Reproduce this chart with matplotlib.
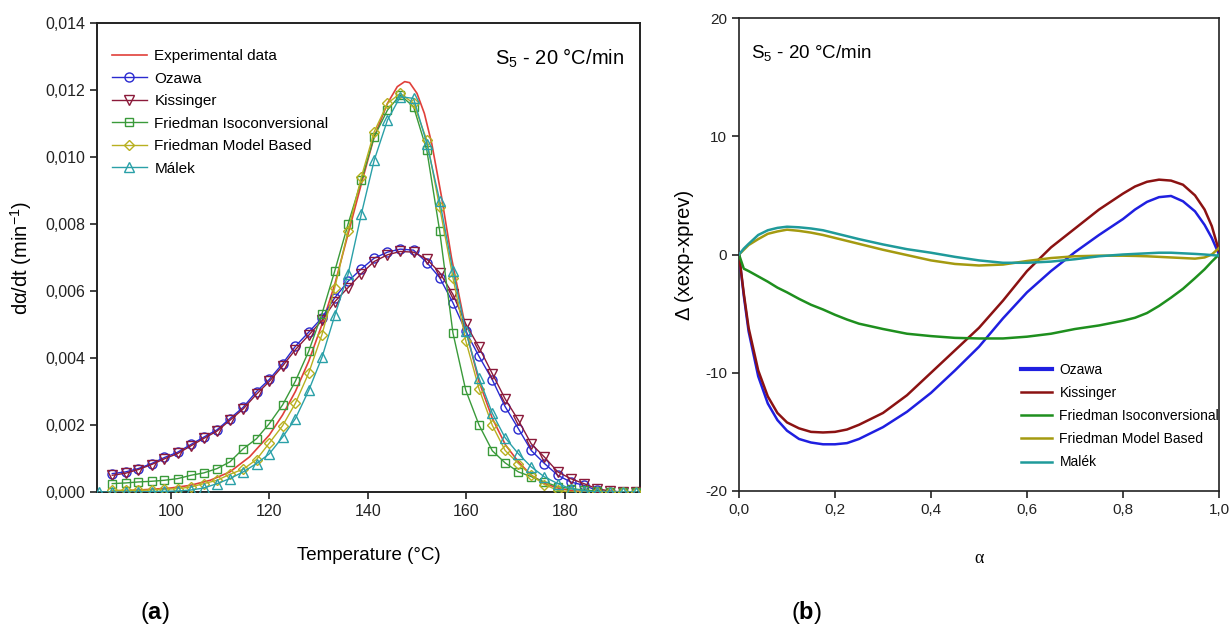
import matplotlib
matplotlib.use("Agg")
import matplotlib.pyplot as plt
import numpy as np

plt.rcParams['font.family'] = ['Liberation Sans', 'DejaVu Sans']
plt.rcParams['mathtext.fontset'] = 'custom'
plt.rcParams['mathtext.rm'] = 'Liberation Sans'
plt.rcParams['mathtext.it'] = 'Liberation Sans:italic'
plt.rcParams['mathtext.bf'] = 'Liberation Sans:bold'
plt.rcParams['mathtext.default'] = 'regular'

# ---------------- Panel (a) data ----------------
temperature = [85.4, 88.1, 90.8, 93.4, 96.1, 98.7, 101.4, 104.1, 106.7, 109.4, 112.0,
               114.7, 117.4, 120.0, 122.7, 125.3, 128.0, 130.7, 133.3, 136.0, 138.7,
               141.3, 144.0, 146.6, 149.3, 152.0, 154.6, 157.3, 159.9, 162.6, 165.3,
               167.9, 170.6, 173.2, 175.9, 178.6, 181.2, 183.9, 186.5, 189.2, 191.9, 194.5]

ozawa = [np.nan, 0.00055, 0.00060, 0.00070, 0.00085, 0.00103, 0.00119, 0.00142, 0.00164,
         0.00186, 0.00219, 0.00253, 0.00300, 0.00336, 0.00383, 0.00435, 0.00477, 0.00520,
         0.00580, 0.00629, 0.00666, 0.00698, 0.00716, 0.00725, 0.00722, 0.00685, 0.00640,
         0.00565, 0.00480, 0.00405, 0.00335, 0.00255, 0.00189, 0.00124, 0.00085, 0.00050,
         0.00030, 0.00020, 0.00005, 0.0, 0.0, 0.0]

kissinger = [np.nan, 0.00050, 0.00056, 0.00067, 0.00082, 0.00099, 0.00115, 0.00138, 0.00160,
             0.00182, 0.00214, 0.00248, 0.00292, 0.00330, 0.00376, 0.00425, 0.00468, 0.00512,
             0.00568, 0.00610, 0.00652, 0.00688, 0.00708, 0.00718, 0.00716, 0.00695, 0.00655,
             0.00590, 0.00502, 0.00432, 0.00353, 0.00278, 0.00214, 0.00144, 0.00104, 0.00060,
             0.00040, 0.00025, 0.00010, 0.00003, 0.0, 0.0]

friedman_iso = [np.nan, 0.00025, 0.00027, 0.00030, 0.00032, 0.00035, 0.00040, 0.00050, 0.00057,
                0.00070, 0.00090, 0.00129, 0.00159, 0.00204, 0.00260, 0.00331, 0.00420, 0.00532,
                0.00660, 0.00800, 0.00930, 0.01060, 0.01140, 0.01185, 0.01150, 0.01020, 0.00780,
                0.00475, 0.00304, 0.00200, 0.00123, 0.00087, 0.00060, 0.00046, 0.00030, 0.00016,
                0.00010, 0.00006, 0.00003, 0.0, 0.0, 0.0]

friedman_model = [np.nan, 0.00005, 0.00005, 0.00005, 0.00006, 0.00008, 0.00010, 0.00015, 0.00025,
                  0.00035, 0.00053, 0.00068, 0.00097, 0.00146, 0.00198, 0.00265, 0.00355, 0.00470,
                  0.00610, 0.00780, 0.00940, 0.01075, 0.01160, 0.01190, 0.01160, 0.01050, 0.00850,
                  0.00640, 0.00452, 0.00308, 0.00199, 0.00124, 0.00085, 0.00050, 0.00022, 0.00005,
                  0.0, 0.0, 0.0, 0.0, 0.0, 0.0]

malek = [0.0, 0.0, 0.0, 0.0, 0.00001, 0.00002, 0.00003, 0.00006, 0.00012,
         0.00025, 0.00040, 0.00060, 0.00085, 0.00114, 0.00164, 0.00219, 0.00303, 0.00402,
         0.00527, 0.00650, 0.00830, 0.00990, 0.01110, 0.01180, 0.01175, 0.01040, 0.00870,
         0.00660, 0.00480, 0.00340, 0.00235, 0.00162, 0.00114, 0.00075, 0.00045, 0.00025,
         0.00010, 0.00004, 0.0, 0.0, 0.0, 0.0]

exp_temperature = [88, 92, 96, 100, 104, 108, 112, 116, 120, 122.7, 125.3, 128, 130.7, 133.3,
                   136, 138.7, 141.3, 144, 146, 147.5, 148.5, 150, 151.5, 153, 155, 157, 160,
                   162.6, 165.3, 168, 170.6, 173.2, 176, 179, 182, 186, 190, 194.5]
experimental = [0.00003, 0.00005, 0.00008, 0.00012, 0.00020, 0.00035, 0.00060, 0.00105,
                0.00170, 0.00230, 0.00300, 0.00390, 0.00500, 0.00620, 0.00770, 0.00920,
                0.01060, 0.01160, 0.01210, 0.01225, 0.01222, 0.01190, 0.01130, 0.01040,
                0.00880, 0.00700, 0.00480, 0.00330, 0.00220, 0.00140, 0.00090, 0.00050,
                0.00025, 0.00010, 0.00003, 0.0, 0.0, 0.0]

yticks_a = [0.000, 0.002, 0.004, 0.006, 0.008, 0.010, 0.012, 0.014]
xticks_a = [100, 120, 140, 160, 180]

# ---------------- Panel (b) data ----------------
alpha = [0.0, 0.01, 0.02, 0.04, 0.06, 0.08, 0.10, 0.125, 0.15, 0.175, 0.20, 0.225, 0.25,
         0.30, 0.35, 0.40, 0.45, 0.50, 0.55, 0.60, 0.65, 0.70, 0.75, 0.80, 0.825, 0.85,
         0.875, 0.90, 0.925, 0.95, 0.97, 0.985, 1.0]

d_ozawa = [0.0, -3.5, -6.5, -10.3, -12.6, -14.0, -14.9, -15.6, -15.9, -16.05, -16.05, -15.95,
           -15.6, -14.6, -13.3, -11.7, -9.8, -7.8, -5.4, -3.2, -1.4, 0.2, 1.65, 3.0, 3.8, 4.45,
           4.85, 4.95, 4.5, 3.65, 2.5, 1.4, 0.0]

d_kissinger = [0.0, -3.3, -6.2, -9.8, -12.0, -13.4, -14.2, -14.7, -15.0, -15.05, -15.0, -14.8,
               -14.4, -13.4, -11.9, -10.0, -8.1, -6.2, -3.9, -1.4, 0.6, 2.2, 3.8, 5.15, 5.75,
               6.15, 6.33, 6.25, 5.9, 5.0, 3.8, 2.4, 0.3]

d_friedman_iso = [0.0, -1.2, -1.4, -1.85, -2.3, -2.8, -3.2, -3.75, -4.25, -4.65, -5.1, -5.5,
                  -5.85, -6.3, -6.7, -6.9, -7.05, -7.1, -7.1, -6.95, -6.7, -6.3, -6.0, -5.6,
                  -5.35, -4.95, -4.35, -3.65, -2.9, -2.0, -1.25, -0.6, 0.0]

d_friedman_model = [0.0, 0.4, 0.8, 1.3, 1.75, 1.95, 2.1, 2.0, 1.85, 1.65, 1.4, 1.15, 0.9, 0.4,
                    -0.05, -0.5, -0.8, -0.93, -0.85, -0.55, -0.3, -0.15, -0.1, -0.1, -0.12,
                    -0.15, -0.2, -0.25, -0.3, -0.35, -0.25, 0.0, 0.55]

d_malek = [0.0, 0.5, 0.9, 1.65, 2.05, 2.25, 2.35, 2.3, 2.2, 2.05, 1.8, 1.55, 1.3, 0.85, 0.45,
           0.15, -0.2, -0.5, -0.7, -0.7, -0.6, -0.4, -0.15, 0.0, 0.05, 0.1, 0.15, 0.15, 0.1,
           0.05, 0.0, -0.05, -0.1]

yticks_b = [-20, -10, 0, 10, 20]
xticks_b = [0.0, 0.2, 0.4, 0.6, 0.8, 1.0]


def comma(v, nd):
    return f"{v:.{nd}f}".replace('.', ',')


fig = plt.figure(figsize=(12.31, 6.30), dpi=100)

# ---------------- Panel (a) ----------------
ax1 = fig.add_axes([97 / 1231, 1 - 492 / 630, (640 - 97) / 1231, (492 - 23) / 630])
ms = 6.5
mew = 1.0
ax1.plot(exp_temperature, experimental, color='#e0403a', lw=1.2, label='Experimental data', zorder=3)
ax1.plot(temperature, ozawa, color='#2a2ad0', lw=1.0, marker='o', ms=ms, mfc='none', mew=mew,
         label='Ozawa', zorder=4)
ax1.plot(temperature, kissinger, color='#8b1a3a', lw=1.0, marker='v', ms=ms, mfc='none', mew=mew,
         label='Kissinger', zorder=4)
ax1.plot(temperature, friedman_iso, color='#3a9a3a', lw=1.0, marker='s', ms=ms - 0.5, mfc='none',
         mew=mew, label='Friedman Isoconversional', zorder=4)
ax1.plot(temperature, friedman_model, color='#b8b020', lw=1.0, marker='D', ms=ms - 1.0, mfc='none',
         mew=mew, label='Friedman Model Based', zorder=4)
ax1.plot(temperature, malek, color='#2aa0a8', lw=1.0, marker='^', ms=ms, mfc='none', mew=mew,
         label='Málek', zorder=4)

ax1.set_xlim(85, 195.3)
ax1.set_ylim(0, 0.014)
ax1.set_xticks(xticks_a)
ax1.set_xticklabels([str(t) for t in xticks_a])
ax1.set_yticks(yticks_a)
ax1.set_yticklabels([comma(v, 3) for v in yticks_a])
ax1.tick_params(direction='out', length=5, width=1.2, labelsize=11.5, colors='#222222')
for s in ax1.spines.values():
    s.set_linewidth(1.4)
    s.set_color('#222222')
ax1.set_xlabel('Temperature (°C)', fontsize=13.5, labelpad=20)
ax1.set_ylabel('dα/dt (min$^{-1}$)', fontsize=14.5, labelpad=8)
ax1.text(0.97, 0.925, 'S$_{5}$ - 20 °C/min', transform=ax1.transAxes, ha='right', va='center',
         fontsize=14.5)
leg1 = ax1.legend(loc='upper left', bbox_to_anchor=(0.01, 0.964), frameon=False, fontsize=11,
                  handlelength=2.3, handletextpad=0.5, labelspacing=0.56, numpoints=1,
                  borderaxespad=0.2)

# ---------------- Panel (b) ----------------
ax2 = fig.add_axes([739 / 1231, 1 - 491 / 630, (1219 - 739) / 1231, (491 - 18) / 630])
ax2.plot(alpha, d_ozawa, color='#1f1fe0', lw=1.8, label='Ozawa', zorder=3)
ax2.plot(alpha, d_kissinger, color='#8b1212', lw=1.8, label='Kissinger', zorder=3)
ax2.plot(alpha, d_friedman_iso, color='#1e8f1e', lw=1.8, label='Friedman Isoconversional', zorder=3)
ax2.plot(alpha, d_friedman_model, color='#a49a10', lw=1.8, label='Friedman Model Based', zorder=3)
ax2.plot(alpha, d_malek, color='#1f9a9a', lw=1.8, label='Malék', zorder=3)

ax2.set_xlim(0, 1)
ax2.set_ylim(-20, 20)
ax2.set_xticks(xticks_b)
ax2.set_xticklabels([comma(v, 1) for v in xticks_b])
ax2.set_yticks(yticks_b)
ax2.set_yticklabels([str(v) for v in yticks_b])
ax2.tick_params(direction='out', length=5, width=1.2, labelsize=11, colors='#222222')
for s in ax2.spines.values():
    s.set_linewidth(1.2)
    s.set_color('#222222')
ax2.set_xlabel('α', fontsize=13, family=['Liberation Serif', 'DejaVu Serif'], labelpad=24)
ax2.set_ylabel('Δ (xexp-xprev)', fontsize=14.5, labelpad=8)
ax2.text(0.025, 0.925, 'S$_{5}$ - 20 °C/min', transform=ax2.transAxes, ha='left', va='center',
         fontsize=13.5)
leg2 = ax2.legend(loc='upper left', bbox_to_anchor=(0.575, 0.283), frameon=False, fontsize=10,
                  handlelength=2.3, handletextpad=0.5, labelspacing=0.66, borderaxespad=0.0)
leg2.get_lines()[0].set_linewidth(3.0)

# panel labels
fig.text(155 / 1231, 1 - 613 / 630, '($\\mathbf{a}$)', ha='center', va='center', fontsize=17)
fig.text(806 / 1231, 1 - 613 / 630, '($\\mathbf{b}$)', ha='center', va='center', fontsize=17)

fig.savefig('out.png', dpi=100)
